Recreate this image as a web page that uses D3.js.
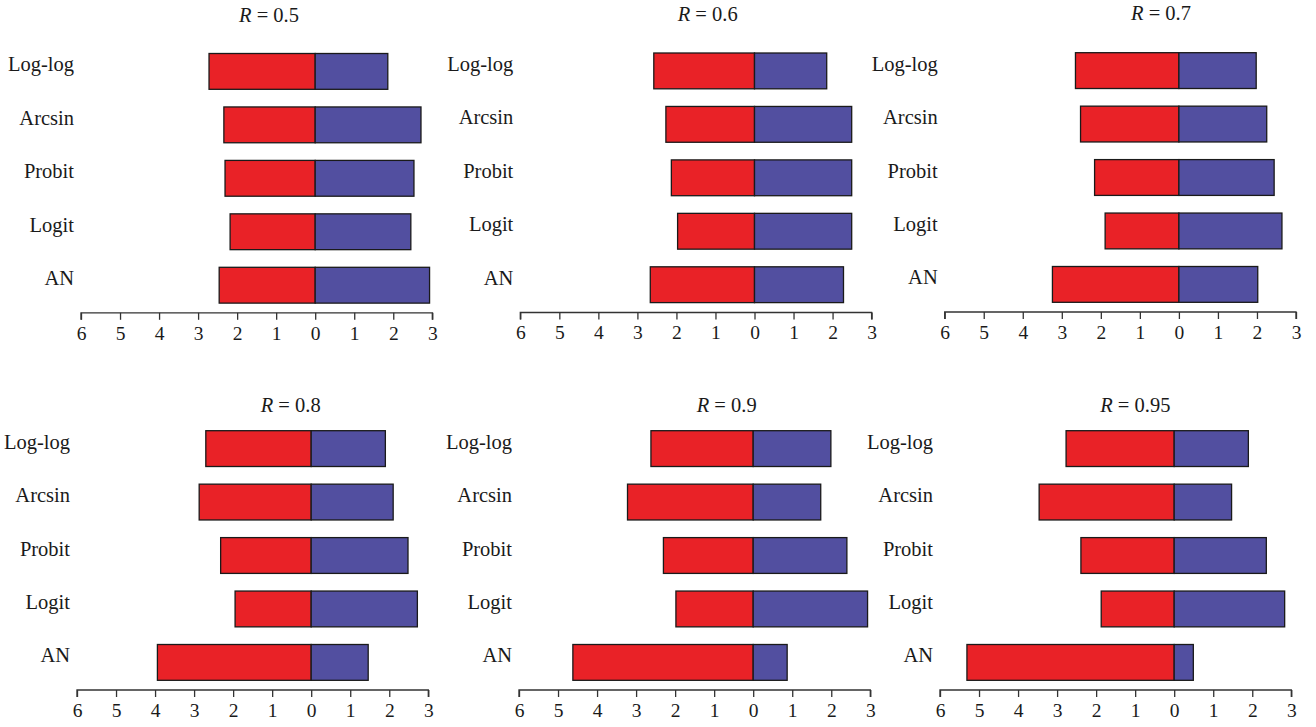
<!DOCTYPE html>
<html>
<head>
<meta charset="utf-8">
<script src="https://cdn.jsdelivr.net/npm/d3@7/dist/d3.min.js"></script>
</head>
<body style="margin:0">
<svg id="chart" width="1316" height="727" font-family="Liberation Serif"></svg>
<script>
// ---- data ----
const categories = ["Log-log", "Arcsin", "Probit", "Logit", "AN"];
const rValues = ["0.5", "0.6", "0.7", "0.8", "0.9", "0.95"];
const tickValues = [-6, -5, -4, -3, -2, -1, 0, 1, 2, 3];
// red (left) magnitudes per panel, in category order
const leftR05  = [2.72, 2.34, 2.31, 2.18, 2.46];
const leftR06  = [2.58, 2.27, 2.13, 1.97, 2.67];
const leftR07  = [2.65, 2.52, 2.16, 1.89, 3.24];
const leftR08  = [2.70, 2.87, 2.32, 1.95, 3.94];
const leftR09  = [2.62, 3.22, 2.30, 1.98, 4.62];
const leftR095 = [2.77, 3.46, 2.39, 1.87, 5.31];
// blue (right) values per panel
const rightR05  = [1.86, 2.71, 2.53, 2.45, 2.93];
const rightR06  = [1.85, 2.49, 2.49, 2.49, 2.28];
const rightR07  = [1.98, 2.25, 2.44, 2.64, 2.02];
const rightR08  = [1.90, 2.10, 2.48, 2.72, 1.46];
const rightR09  = [1.99, 1.73, 2.40, 2.93, 0.87];
const rightR095 = [1.90, 1.47, 2.36, 2.83, 0.49];

const leftSeries = [leftR05, leftR06, leftR07, leftR08, leftR09, leftR095];
const rightSeries = [rightR05, rightR06, rightR07, rightR08, rightR09, rightR095];

// ---- layout (positions only) ----
const layout = [
  { axisLeft: 81,    axisY: 312.8, barTop: 53.5,  titleX: 269,    titleY: 21.5 },
  { axisLeft: 520.3, axisY: 312.5, barTop: 53,    titleX: 707.7,  titleY: 20.7 },
  { axisLeft: 944.7, axisY: 312,   barTop: 52.7,  titleX: 1161,   titleY: 20 },
  { axisLeft: 77,    axisY: 690,   barTop: 430.7, titleX: 290.7,  titleY: 412.3 },
  { axisLeft: 519,   axisY: 690,   barTop: 430.7, titleX: 726.7,  titleY: 412.3 },
  { axisLeft: 940,   axisY: 690,   barTop: 430.7, titleX: 1135.3, titleY: 412.3 }
];
const axisWidth = 351.3;
const step = 53.45;
const padInner = 0.33;
const RED = "#E92227", BLUE = "#524FA0";
const FONT = "Liberation Serif";
const INK = "#1a1a1a";

const svg = d3.select("#chart");

rValues.forEach((r, i) => {
  const L = layout[i];
  const g = svg.append("g").attr("font-family", FONT);
  const x = d3.scaleLinear().domain([-6, 3]).range([L.axisLeft, L.axisLeft + axisWidth]);
  const start = L.barTop - step * padInner / 2;
  const y = d3.scaleBand().domain(categories)
    .range([start, start + step * categories.length])
    .paddingInner(padInner).paddingOuter(padInner / 2);

  const rows = categories.map((c, k) => ({ cat: c, left: leftSeries[i][k], right: rightSeries[i][k] }));

  g.selectAll("rect.neg").data(rows).join("rect")
    .attr("class", "neg")
    .attr("x", d => x(-d.left))
    .attr("y", d => y(d.cat))
    .attr("width", d => x(0) - x(-d.left))
    .attr("height", y.bandwidth())
    .attr("fill", RED)
    .attr("stroke", INK).attr("stroke-width", 1.3);

  g.selectAll("rect.pos").data(rows).join("rect")
    .attr("class", "pos")
    .attr("x", x(0))
    .attr("y", d => y(d.cat))
    .attr("width", d => x(d.right) - x(0))
    .attr("height", y.bandwidth())
    .attr("fill", BLUE)
    .attr("stroke", INK).attr("stroke-width", 1.3);

  g.selectAll("text.cat").data(categories).join("text")
    .attr("class", "cat")
    .attr("x", L.axisLeft - 7)
    .attr("y", d => y(d) + y.bandwidth() / 2)
    .attr("text-anchor", "end")
    .attr("font-family", FONT).attr("font-size", 20.5).attr("fill", INK)
    .text(d => d);

  const axis = d3.axisBottom(x).tickValues(tickValues)
    .tickFormat(v => String(Math.abs(v))).tickSize(7).tickPadding(6);
  const ax = g.append("g").attr("transform", `translate(0,${L.axisY})`).call(axis);
  ax.attr("font-family", FONT).attr("font-size", 19.5);
  ax.select(".domain").attr("d", `M${x(-6)},7V0H${x(3)}V7`).attr("stroke", "#333").attr("stroke-width", 1.3);
  ax.selectAll(".tick line").attr("stroke", "#333").attr("stroke-width", 1.3);
  ax.selectAll(".tick text").attr("font-family", FONT).attr("fill", INK);

  const t = g.append("text")
    .attr("x", L.titleX).attr("y", L.titleY)
    .attr("text-anchor", "middle")
    .attr("font-family", FONT).attr("font-size", 20.5).attr("fill", INK);
  t.append("tspan").attr("font-style", "italic").text("R");
  t.append("tspan").text(" = " + r);
});
</script>
</body>
</html>
